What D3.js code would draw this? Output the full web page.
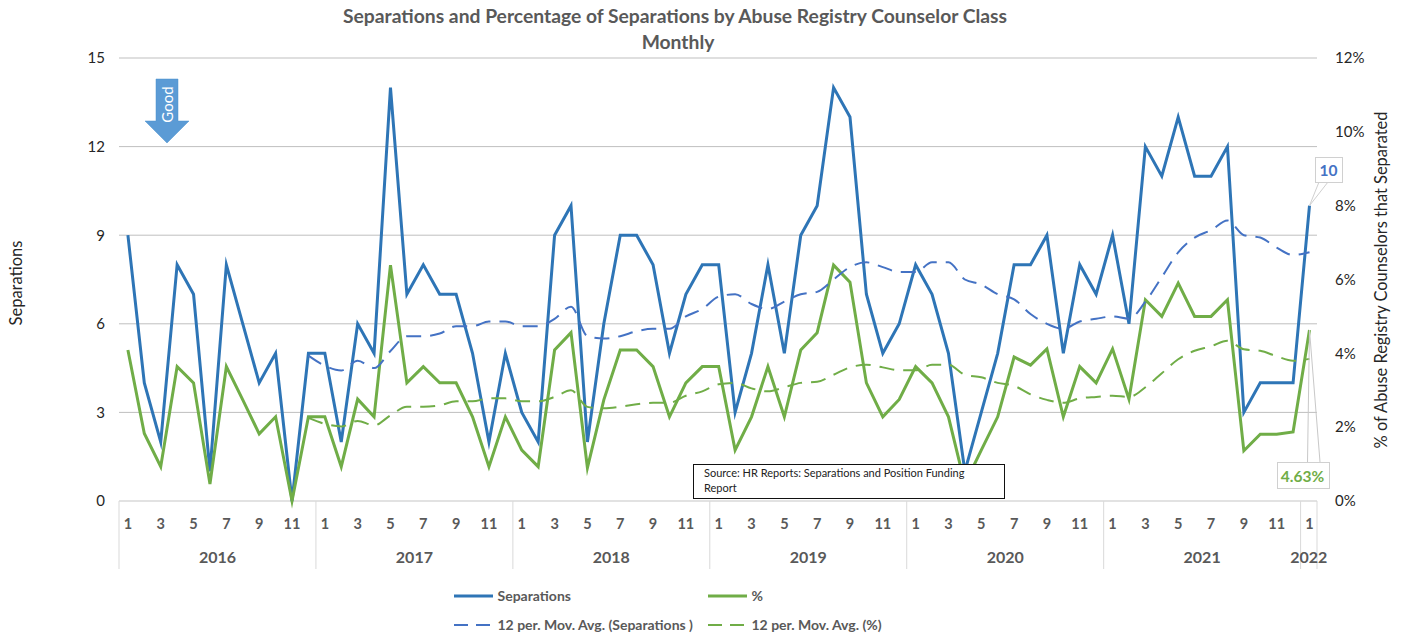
<!DOCTYPE html>
<html><head><meta charset="utf-8">
<script src="https://cdn.jsdelivr.net/npm/d3@7"></script>
<style>html,body{margin:0;padding:0;background:#fff}svg{display:block}text{font-family:Lato,"Open Sans",sans-serif}</style>
</head><body><svg id="c" width="1403" height="637"></svg>
<script>
const titleLines = ["Separations and Percentage of Separations by Abuse Registry Counselor Class","Monthly"];
const leftAxisTitle = "Separations";
const rightAxisTitle = "% of Abuse Registry Counselors that Separated";
const years = [2016,2017,2018,2019,2020,2021,2022];
const monthsPerYear = [12,12,12,12,12,12,1];
const separations = [
 9,4,2,8,7,1,8,6,4,5,0,5,
 5,2,6,5,14,7,8,7,7,5,2,5,
 3,2,9,10,2,6,9,9,8,5,7,8,
 8,3,5,8,5,9,10,14,13,7,5,6,
 8,7,5,1,3,5,8,8,9,5,8,7,
 9,6,12,11,13,11,11,12,3,4,4,4,
 10];
const percent = [
 4.09,1.83,0.93,3.64,3.20,0.46,3.64,2.74,1.82,2.28,0,2.28,
 2.28,0.93,2.76,2.28,6.39,3.20,3.64,3.20,3.20,2.28,0.93,2.28,
 1.38,0.93,4.09,4.56,0.90,2.74,4.09,4.09,3.64,2.28,3.20,3.64,
 3.64,1.38,2.28,3.64,2.28,4.09,4.56,6.39,5.93,3.20,2.28,2.75,
 3.64,3.20,2.28,0.46,1.38,2.28,3.90,3.68,4.12,2.28,3.64,3.20,
 4.12,2.76,5.45,5.00,5.90,5.00,5.00,5.45,1.36,1.81,1.81,1.87,
 4.63];
const maSeparations = [
 4.92,
 4.58,4.42,4.75,4.50,5.08,5.58,5.58,5.67,5.92,5.92,6.08,6.08,
 5.92,5.92,6.17,6.58,5.58,5.50,5.58,5.75,5.83,5.83,6.25,6.50,
 6.92,7.00,6.67,6.50,6.75,7.00,7.08,7.50,7.92,8.08,7.92,7.75,
 7.75,8.08,8.08,7.50,7.33,7.00,6.83,6.33,6.00,5.83,6.08,6.17,
 6.25,6.17,6.75,7.58,8.42,8.92,9.17,9.50,9.00,8.92,8.58,8.33,
 8.42];
const maPercent = [
 2.25,
 2.09,2.02,2.17,2.05,2.32,2.55,2.55,2.59,2.70,2.70,2.78,2.78,
 2.70,2.70,2.82,3.00,2.55,2.51,2.55,2.62,2.66,2.66,2.85,2.97,
 3.16,3.20,3.05,2.97,3.08,3.20,3.23,3.42,3.62,3.69,3.62,3.54,
 3.54,3.69,3.69,3.42,3.35,3.20,3.12,2.89,2.74,2.66,2.78,2.82,
 2.85,2.82,3.08,3.46,3.84,4.07,4.19,4.34,4.11,4.07,3.92,3.80,
 3.85];
const leftTicks = [0,3,6,9,12,15];
const rightTicks = [0,2,4,6,8,10,12];
const lastSepLabel = "10";
const lastPctLabel = "4.63%";
const sourceLines = ["Source: HR Reports: Separations and Position Funding","Report"];
const legendSep = "Separations", legendPct = "%",
      legendMaSep = "12 per. Mov. Avg. (Separations )", legendMaPct = "12 per. Mov. Avg. (%)";
const goodLabel = "Good";

const BLUE="#2e75b6", GREEN="#70ad47", MABLUE="#4472c4", GRID="#bfbfbf", AXC="#d9d9d9", LBL="#595959";
const L=119,R=1317,T=58,B=501;
const svg=d3.select("#c");
const idx=d3.range(separations.length);
const x=d3.scaleBand().domain(idx).range([L,R]).paddingInner(0).paddingOuter(0);
const cx=i=>x(i)+x.bandwidth()/2+0.7;
const yL=d3.scaleLinear().domain([0,15]).range([B,T]);
const yR=d3.scaleLinear().domain([0,12]).range([B,T]);

// gridlines
svg.append("g").selectAll("line").data(leftTicks.filter(d=>d>0)).join("line")
 .attr("x1",L).attr("x2",R).attr("y1",d=>yL(d)).attr("y2",d=>yL(d)).attr("stroke",GRID).attr("stroke-width",1);

// value axes
const gL=svg.append("g").attr("transform",`translate(${L-14},0)`).call(d3.axisLeft(yL).tickValues(leftTicks).tickSize(0).tickPadding(0));
gL.select(".domain").remove();
gL.selectAll("text").attr("font-size",15).attr("fill","#262626").style("font-family","Lato");
const gR=svg.append("g").attr("transform",`translate(1335,0)`).call(d3.axisRight(yR).tickValues(rightTicks).tickSize(0).tickPadding(0).tickFormat(d=>d+"%"));
gR.select(".domain").remove();
gR.selectAll("text").attr("font-size",15).attr("fill","#262626").style("font-family","Lato");

// category axis
svg.append("line").attr("x1",L).attr("x2",R).attr("y1",B).attr("y2",B).attr("stroke",AXC).attr("stroke-width",1.5);
const starts=[];let acc=0;monthsPerYear.forEach(m=>{starts.push(acc);acc+=m;});
const seps=starts.map(s=>x(s)).concat([R]);
svg.append("g").selectAll("line").data(seps).join("line")
 .attr("x1",d=>d).attr("x2",d=>d).attr("y1",B).attr("y2",569).attr("stroke",AXC).attr("stroke-width",1);
const monthOf=[];monthsPerYear.forEach(m=>{for(let k=1;k<=m;k++)monthOf.push(k);});
svg.append("g").selectAll("text").data(idx.filter(i=>monthOf[i]%2===1)).join("text")
 .attr("x",cx).attr("y",529).attr("text-anchor","middle").attr("font-size",14.5).attr("font-weight",700).attr("fill",LBL)
 .text(i=>monthOf[i]);
svg.append("g").selectAll("text").data(years).join("text")
 .attr("x",(d,i)=>(x(starts[i])+x(starts[i]+monthsPerYear[i]-1)+x.bandwidth())/2)
 .attr("y",563).attr("text-anchor","middle").attr("font-size",16).attr("font-weight",700).attr("fill",LBL).text(d=>d);

// lines
const lineL=d3.line().x(d=>cx(d[0])).y(d=>yL(d[1]));
const lineR=d3.line().x(d=>cx(d[0])).y(d=>yR(d[1]));
const smoothL=d3.line().x(d=>cx(d[0])).y(d=>yL(d[1])).curve(d3.curveMonotoneX);
const smoothR=d3.line().x(d=>cx(d[0])).y(d=>yR(d[1])).curve(d3.curveMonotoneX);
const base=(a,o=0)=>a.map((v,i)=>[i+o,v]);
const plain=(p,c)=>svg.append("path").attr("d",p).attr("fill","none").attr("stroke",c).attr("stroke-width",3).attr("stroke-linejoin","miter").attr("stroke-miterlimit",6);
const dash=(p,c)=>svg.append("path").attr("d",p).attr("fill","none").attr("stroke",c).attr("stroke-width",2).attr("stroke-dasharray","15 9");
plain(lineL(base(separations)),BLUE);
plain(lineR(base(percent)),GREEN);
dash(smoothL(base(maSeparations,11)),MABLUE);
dash(smoothR(base(maPercent,11)),GREEN);

// titles
svg.append("g").selectAll("text").data(titleLines).join("text")
 .attr("x",(d,i)=>i?678:675).attr("y",(d,i)=>i?49:23).attr("text-anchor","middle")
 .attr("font-size",19.3).attr("font-weight",700).attr("fill",LBL).text(d=>d);
svg.append("text").attr("transform","translate(22,283) rotate(-90)").attr("text-anchor","middle").attr("font-size",16.5).attr("fill","#262626").text(leftAxisTitle);
svg.append("text").attr("transform","translate(1387,280) rotate(-90)").attr("text-anchor","middle").attr("font-size",16.4).attr("fill","#262626").text(rightAxisTitle);

// Good arrow
svg.append("path").attr("d","M156,79H178V121H189L167,143L145,121H156Z").attr("fill","#5b9bd5").attr("stroke","#4a90cf").attr("stroke-width",.5);
svg.append("text").attr("transform","translate(173,104.5) rotate(-90)").attr("text-anchor","middle").attr("font-size",15).attr("fill","#fff").text(goodLabel);

// Source box
svg.append("rect").attr("x",693.5).attr("y",464.5).attr("width",311).attr("height",34).attr("fill","#fff").attr("stroke","#111").attr("stroke-width",1);
svg.append("g").selectAll("text").data(sourceLines).join("text")
 .attr("x",704).attr("y",(d,i)=>477+i*14.5).attr("font-size",11).attr("fill","#222").text(d=>d);

// callouts
const n=separations.length-1, px=cx(n);
const py1=yL(separations[n]), py2=yR(percent[n]);
svg.append("path").attr("d",`M${px},${py1}L1319,182H1328Z`).attr("fill","#fff").attr("stroke","#d0d0d0");
svg.append("rect").attr("x",1315.5).attr("y",157.5).attr("width",27).attr("height",25).attr("fill","#fff").attr("stroke","#d0d0d0");
svg.append("text").attr("x",1328.5).attr("y",176).attr("text-anchor","middle").attr("font-size",15.5).attr("font-weight",700).attr("fill",MABLUE).text(lastSepLabel);
svg.append("path").attr("d",`M${px},${py2}L1307.5,462M${px},${py2}L1320,462`).attr("fill","none").attr("stroke","#c8c8c8");
svg.append("rect").attr("x",1277.5).attr("y",462.5).attr("width",52).attr("height",26).attr("fill","#fff").attr("stroke","#d0d0d0");
svg.append("text").attr("x",1302.5).attr("y",482).attr("text-anchor","middle").attr("font-size",15.5).attr("font-weight",700).attr("fill",GREEN).text(lastPctLabel);

// legend
const legend=[
 {t:legendSep,x:454,y:596,c:BLUE,d:null,w:3},
 {t:legendPct,x:708,y:596,c:GREEN,d:null,w:3},
 {t:legendMaSep,x:454,y:625,c:MABLUE,d:"14 8",w:2},
 {t:legendMaPct,x:708,y:625,c:GREEN,d:"14 8",w:2}];
const lg=svg.append("g").selectAll("g").data(legend).join("g");
lg.append("line").attr("x1",d=>d.x).attr("x2",d=>d.x+39).attr("y1",d=>d.y).attr("y2",d=>d.y)
 .attr("stroke",d=>d.c).attr("stroke-width",d=>d.w).attr("stroke-dasharray",d=>d.d);
lg.append("text").attr("x",d=>d.x+43.5).attr("y",d=>d.y+4.5).attr("font-size",14).attr("font-weight",700).attr("fill",LBL).text(d=>d.t);
</script></body></html>
